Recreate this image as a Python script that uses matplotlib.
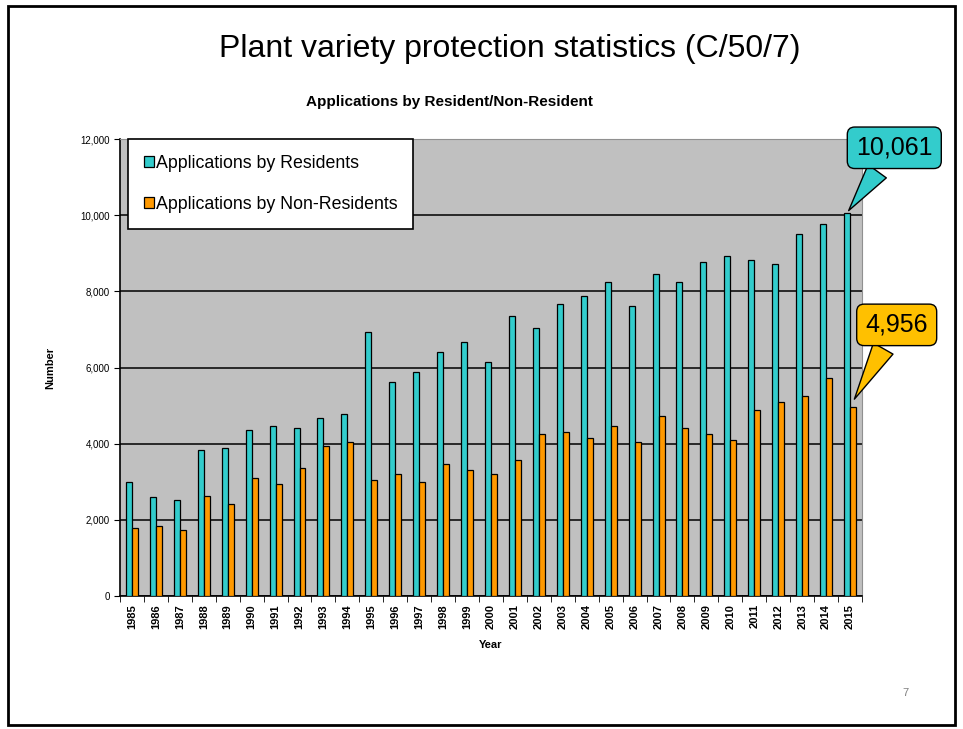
import numpy as np
import matplotlib.pyplot as plt
from matplotlib.patches import Rectangle
from matplotlib.ticker import FuncFormatter

# ----------------------------------------------------------
# Datos
# ----------------------------------------------------------

YEARS = [str(y) for y in range(1985, 2016)]

RESIDENTS = [3000, 2590, 2530, 3840, 3890, 4360, 4470, 4415, 4680, 4780,
             6940, 5620, 5880, 6410, 6680, 6150, 7350, 7040, 7670, 7880,
             8240, 7610, 8460, 8240, 8760, 8930, 8830, 8720, 9500, 9770,
             10061]

NON_RESIDENTS = [1780, 1830, 1730, 2630, 2420, 3100, 2945, 3365, 3940, 4050,
                 3050, 3210, 3000, 3470, 3320, 3200, 3565, 4260, 4300, 4150,
                 4470, 4040, 4730, 4400, 4260, 4090, 4890, 5100, 5245, 5730,
                 4956]

LABELS = ["Applications by Residents", "Applications by Non-Residents"]

TEAL = "#33CCCC"
ORANGE = "#FF9900"
GOLD = "#FFC000"

plt.rcParams["font.family"] = ["Liberation Sans", "DejaVu Sans"]

# ----------------------------------------------------------
# Figura
# ----------------------------------------------------------

fig = plt.figure(figsize=(9.63, 7.29), dpi=100)

# marco de la diapositiva
fig.patches.append(Rectangle((0.008, 0.006), 0.984, 0.986, transform=fig.transFigure,
                             fill=False, edgecolor="black", linewidth=2))

ax = fig.add_axes([0.1246, 0.1824, 0.7705, 0.6269])
ax.set_facecolor("#C0C0C0")

x = np.arange(len(YEARS))
w = 0.25

ax.bar(x - w / 2, RESIDENTS, width=w, color=TEAL, edgecolor="black",
       linewidth=0.9, label=LABELS[0], zorder=3)
ax.bar(x + w / 2, NON_RESIDENTS, width=w, color=ORANGE, edgecolor="black",
       linewidth=0.9, label=LABELS[1], zorder=3)

ax.set_xlim(-0.5, len(YEARS) - 0.5)
ax.set_ylim(0, 12000)
ax.set_yticks(range(0, 12001, 2000))
ax.yaxis.set_major_formatter(FuncFormatter(lambda v, p: f"{int(v):,}"))
ax.grid(axis="y", color="black", linewidth=1.1, zorder=1)

ax.set_xticks(x)
ax.set_xticklabels(YEARS, rotation=90, fontsize=8, fontweight="bold")
ax.set_xticks(np.arange(-0.5, len(YEARS)), minor=True)
ax.tick_params(axis="x", which="major", length=0, pad=6)
ax.tick_params(axis="x", which="minor", length=4, color="black")
ax.tick_params(axis="y", labelsize=7, length=4)

for side in ["top", "right"]:
    ax.spines[side].set_color("#909090")
ax.spines["left"].set_linewidth(1.2)
ax.spines["bottom"].set_linewidth(1.2)

ax.set_xlabel("Year", fontsize=8, fontweight="bold", labelpad=8)
ax.set_ylabel("Number", fontsize=8, fontweight="bold", labelpad=18)

leg = ax.legend(loc="upper left", bbox_to_anchor=(0.011, 1.0), borderaxespad=0,
                fancybox=False, edgecolor="black", fontsize=12.8,
                handlelength=0.55, handleheight=0.55, handletextpad=0.1,
                labelspacing=1.35, borderpad=0.9, framealpha=1)
leg.get_frame().set_linewidth(1.2)

# ----------------------------------------------------------
# Globos de valores
# ----------------------------------------------------------

last = len(YEARS) - 1
ax.annotate(f"{RESIDENTS[-1]:,}", xy=(last - w / 2, RESIDENTS[-1]),
            xytext=(31.85, 11770), textcoords="data", annotation_clip=False,
            ha="center", va="center", fontsize=18, zorder=5,
            bbox=dict(boxstyle="round,pad=0.35,rounding_size=0.3", fc=TEAL, ec="black", lw=1),
            arrowprops=dict(arrowstyle="wedge,tail_width=0.9,shrink_factor=0.5",
                            fc=TEAL, ec="black", lw=1))

ax.annotate(f"{NON_RESIDENTS[-1]:,}", xy=(last + w / 2, NON_RESIDENTS[-1] + 150),
            xytext=(31.95, 7120), textcoords="data", annotation_clip=False,
            ha="center", va="center", fontsize=18, zorder=5,
            bbox=dict(boxstyle="round,pad=0.35,rounding_size=0.3", fc=GOLD, ec="black", lw=1),
            arrowprops=dict(arrowstyle="wedge,tail_width=0.9,shrink_factor=0.5",
                            fc=GOLD, ec="black", lw=1))

# ----------------------------------------------------------
# Títulos
# ----------------------------------------------------------

fig.text(0.529, 0.933, "Plant variety protection statistics (C/50/7)",
         ha="center", va="center", fontsize=23)
fig.text(0.467, 0.86, "Applications by Resident/Non-Resident",
         ha="center", va="center", fontsize=11, fontweight="bold")
fig.text(0.94, 0.05, "7", ha="center", va="center", fontsize=8, color="#808080")

fig.savefig("out.png", dpi=100)
plt.close(fig)
